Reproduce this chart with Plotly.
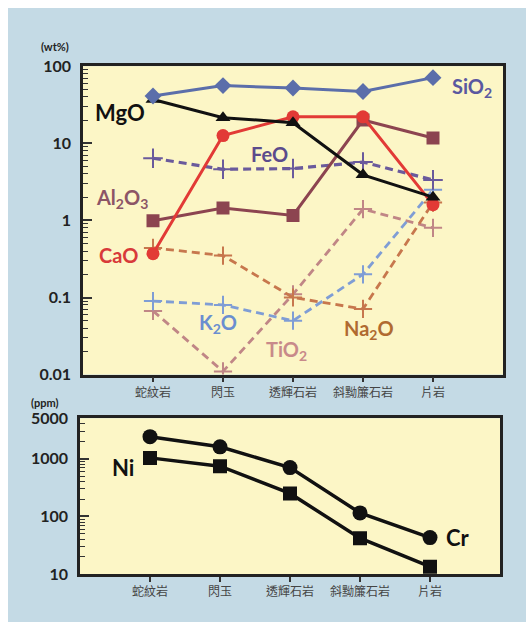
import math
import plotly.graph_objects as go

# the page body keeps an 8px margin on the top and left; the figure fills the rest
W, H = 518, 614
OX, OY = 8, 8

categories = ["蛇紋岩", "閃玉", "透輝石岩", "斜黝簾石岩", "片岩"]

sio2 = [41, 56, 52, 47, 71]
mgo = [37, 21.5, 18.5, 3.9, 2.0]
cao = [0.37, 12.6, 22, 22, 1.6]
al2o3 = [0.99, 1.45, 1.16, 20, 11.7]
feo = [6.4, 4.6, 4.7, 5.7, 3.35]
na2o = [0.44, 0.35, 0.1, 0.071, 1.7]
tio2 = [0.067, 0.011, 0.11, 1.4, 0.8]
k2o = [0.09, 0.08, 0.05, 0.2, 2.5]

cr = [2400, 1600, 700, 115, 43]
ni = [1030, 740, 250, 42, 13.5]

top_ticks = [0.01, 0.1, 1, 10, 100]
top_ticktext = ["0.01", "0.1", "1", "10", "100"]
bot_ticks = [10, 100, 1000, 5000]
bot_ticktext = ["10", "100", "1000", "5000"]

BG = "#c4dae5"
PLOT = "#fcf6c6"
FRAME = "#222222"


def px(x):
    return (x - OX) / W


def py(y):
    return 1 - (y - OY) / H


fig = go.Figure()


def add(y, color, name, symbol, size, dash="solid", width=3, xa="x", ya="y"):
    marker = dict(symbol=symbol, size=size, color=color)
    if "cross-thin" in symbol:
        marker["line"] = dict(color=color, width=2)
    fig.add_trace(go.Scatter(
        x=categories, y=y, mode="lines+markers", name=name,
        line=dict(color=color, width=width, dash=dash),
        marker=marker, xaxis=xa, yaxis=ya, showlegend=False))


dash = "8px,5px"
add(tio2, "#c08686", "TiO2", "cross-thin", 13, dash, 2.8)
add(na2o, "#c7774d", "Na2O", "cross-thin", 13, dash, 2.8)
add(k2o, "#7f9dd5", "K2O", "cross-thin", 13, dash, 2.8)
add(feo, "#6a5a9c", "FeO", "cross-thin", 14, dash, 3.2)
add(al2o3, "#8c4450", "Al2O3", "square", 13)
add(cao, "#e23a36", "CaO", "circle", 13)
add(mgo, "#111111", "MgO", "triangle-up", 13)
add(sio2, "#5b6eaa", "SiO2", "diamond", 13)

add(cr, "#111111", "Cr", "circle", 15, width=3.5, xa="x2", ya="y2")
add(ni, "#111111", "Ni", "square", 14, width=3.5, xa="x2", ya="y2")


def minor_vals(lo, hi):
    vals = []
    d = 10 ** math.floor(math.log10(lo))
    while d < hi:
        for k in range(2, 10):
            v = k * d
            if lo < v < hi:
                vals.append(v)
        d *= 10
    return vals


lab = "Lato, 'Liberation Sans', sans-serif"
tickfont = dict(family=lab, size=16, color="#222222", weight="bold")
catfont = dict(family="'Noto Sans CJK TC', sans-serif", size=12, color="#444444")

common_x = dict(type="category", range=[-1, 5], showline=True, mirror=True,
                linewidth=2.5, linecolor=FRAME, ticks="outside", ticklen=5,
                tickwidth=1.5, tickcolor="#333333", tickfont=catfont,
                showgrid=False, zeroline=False, fixedrange=True)
common_y = dict(type="log", showline=True, mirror=True, linewidth=2.5,
                linecolor=FRAME, ticks="inside", ticklen=9, tickwidth=1.5,
                tickcolor="#333333", tickfont=tickfont, showgrid=False,
                zeroline=False, ticklabelstandoff=6)

fig.update_layout(
    width=W, height=H, margin=dict(l=0, r=0, t=0, b=0),
    paper_bgcolor=BG, plot_bgcolor=PLOT,
    xaxis=dict(domain=[px(83), px(503)], anchor="y", **common_x),
    yaxis=dict(domain=[py(376), py(57.7)], anchor="x",
               range=[-2, 2], tickvals=top_ticks, ticktext=top_ticktext,
               minor=dict(ticks="inside", ticklen=5, tickwidth=1, tickcolor="#333333",
                          tickvals=minor_vals(0.01, 100)),
               **common_y),
    xaxis2=dict(domain=[px(80), px(500)], anchor="y2", **common_x),
    yaxis2=dict(domain=[py(582), py(421)], anchor="x2",
                range=[1, math.log10(5000)], tickvals=bot_ticks, ticktext=bot_ticktext,
                minor=dict(ticks="inside", ticklen=5, tickwidth=1, tickcolor="#333333",
                           tickvals=minor_vals(10, 5000)),
                **common_y),
)


def label(text, x, ylog, color, size=20, xa="x", ya="y"):
    fig.add_annotation(x=x, y=ylog, xref=xa, yref=ya, text="<b>" + text + "</b>",
                       showarrow=False, xanchor="center", yanchor="middle",
                       font=dict(family=lab, size=size, color=color))


label("MgO", -0.47, 1.40, "#111111", 22)
label("SiO<sub>2</sub>", 4.56, 1.72, "#5a58a0")
label("FeO", 1.67, 0.86, "#5b4b8c")
label("Al<sub>2</sub>O<sub>3</sub>", -0.44, 0.29, "#8c5566")
label("CaO", -0.5, -0.455, "#d83a3a")
label("K<sub>2</sub>O", 0.93, -1.34, "#6a8ed0")
label("TiO<sub>2</sub>", 1.91, -1.69, "#c88a8a")
label("Na<sub>2</sub>O", 3.09, -1.42, "#b06a30")
label("Ni", -0.39, 2.84, "#111111", 22, "x2", "y2")
label("Cr", 4.4, 1.64, "#111111", 22, "x2", "y2")

for txt, x, y in [("(wt%)", 55, 37), ("(ppm)", 45, 405)]:
    fig.add_annotation(x=px(x), y=py(y), xref="paper", yref="paper",
                       xanchor="center", yanchor="middle",
                       text="<b>" + txt + "</b>", showarrow=False,
                       font=dict(family=lab, size=11, color="#222222"))

# keep only the top/left page margin so the page is exactly the window size
fig.write_html("out.html",
               post_script="document.body.style.margin='8px 0 0 8px';"
                           "document.body.style.overflow='hidden';")
